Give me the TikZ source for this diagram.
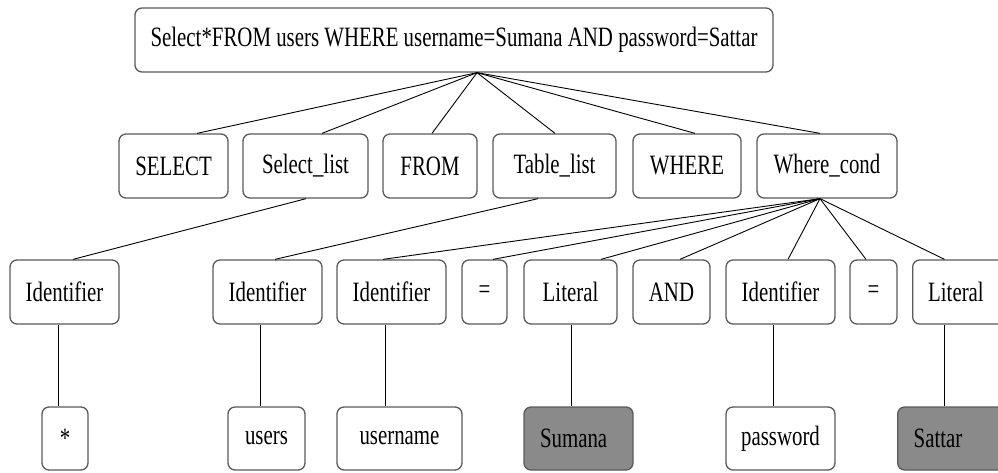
\documentclass[tikz,border=0pt]{standalone}
\usepackage{fontspec}
\setmainfont[FakeStretch=0.745]{Liberation Serif}
\definecolor{boxline}{HTML}{5A5A5A}
\definecolor{leaf}{HTML}{8A8A8A}
\begin{document}
\begin{tikzpicture}[x={(1pt,0)},y={(0,-1pt)},
  bx/.style={draw=boxline,line width=1.3pt,rounded corners=7pt,fill=white,
    minimum height=64pt,inner sep=0pt,font=\fontsize{28}{32}\selectfont},
  lbx/.style={bx,align=left,inner xsep=16pt},
  gbx/.style={fill=leaf},
  edge/.style={draw=black,line width=0.9pt}]
\useasboundingbox (0,0) rectangle (998,472);
\clip (0,0) rectangle (998,472);
% row 1
\node[bx,minimum width=638pt] (top) at (454,40) {Select*FROM users WHERE username=Sumana AND password=Sattar};
% row 2
\node[bx,minimum width=109pt] (sel) at (173.5,166) {SELECT};
\node[bx,minimum width=125pt] (sl) at (305.5,166) {Select\_list};
\node[bx,minimum width=94pt] (from) at (430,166) {FROM};
\node[bx,minimum width=123pt] (tl) at (554.5,166) {Table\_list};
\node[bx,minimum width=108pt] (where) at (687,166) {WHERE};
\node[bx,minimum width=140pt] (wc) at (827,166) {Where\_cond};
% row 3
\node[bx,minimum width=109pt] (id1) at (64.5,292) {Identifier};
\node[bx,minimum width=109pt] (id2) at (267.5,292) {Identifier};
\node[bx,minimum width=109pt] (id3) at (391.5,292) {Identifier};
\node[bx,minimum width=45pt] (eq1) at (484.5,292) {=};
\node[bx,minimum width=93pt] (lit1) at (570.5,292) {Literal};
\node[bx,minimum width=77pt] (and) at (671.5,292) {AND};
\node[bx,minimum width=109pt] (id4) at (780.5,292) {Identifier};
\node[bx,minimum width=47pt] (eq2) at (873.5,292) {=};
\node[lbx,minimum width=100pt,text width=69pt,inner xsep=15pt,anchor=west] (lit2) at (912,292) {Literal};
% row 4
\node[bx,minimum width=46pt,minimum height=63pt] (star) at (65,438.5) {*};
\node[bx,minimum width=77pt,minimum height=63pt] (users) at (266.5,438.5) {users};
\node[bx,minimum width=125pt,minimum height=63pt] (uname) at (399.5,438.5) {username};
\node[lbx,gbx,minimum width=109pt,text width=77pt,minimum height=63pt] (sum) at (578.5,438.5) {Sumana};
\node[bx,minimum width=109pt,minimum height=63pt] (pw) at (780.5,438.5) {password};
\node[lbx,gbx,minimum width=115pt,text width=83pt,minimum height=63pt,anchor=west] (sat) at (897,438.5) {Sattar};
% connectors
\coordinate (ta) at ([xshift=23pt]top.south);
\coordinate (wa) at ([xshift=-7pt]wc.south);
\draw[edge] (ta) -- ([xshift=23.5pt]sel.north);
\draw[edge] (ta) -- ([xshift=16.5pt]sl.north);
\draw[edge] (ta) -- ([xshift=2pt]from.north);
\draw[edge] (ta) -- ([xshift=0.5pt]tl.north);
\draw[edge] (ta) -- ([xshift=8pt]where.north);
\draw[edge] (ta) -- ([xshift=-7pt]wc.north);
\draw[edge] ([xshift=0.5pt]sl.south) -- ([xshift=8.5pt]id1.north);
\draw[edge] ([xshift=-16.5pt]tl.south) -- ([xshift=7.5pt]id2.north);
\draw[edge] (wa) -- ([xshift=-8.5pt]id3.north);
\draw[edge] (wa) -- ([xshift=8.5pt]eq1.north);
\draw[edge] (wa) -- ([xshift=30.5pt]lit1.north);
\draw[edge] (wa) -- ([xshift=8.5pt]and.north);
\draw[edge] (wa) -- ([xshift=7.5pt]id4.north);
\draw[edge] (wa) -- ([xshift=-7.5pt]eq2.north);
\draw[edge] (wa) -- ([xshift=32.5pt]lit2.north west);
\draw[edge] ([xshift=-6.5pt]id1.south) -- ([xshift=-7pt]star.north);
\draw[edge] ([xshift=-7.5pt]id2.south) -- ([xshift=-6.5pt]users.north);
\draw[edge] ([xshift=-6.5pt]id3.south) -- ([xshift=-14.5pt]uname.north);
\draw[edge] ([xshift=0.5pt]lit1.south) -- ([xshift=-7.5pt]sum.north);
\draw[edge] ([xshift=-7.5pt]id4.south) -- ([xshift=-7.5pt]pw.north);
\draw[edge] ([xshift=32.5pt]lit2.south west) -- ([xshift=47.5pt]sat.north west);
\end{tikzpicture}
\end{document}
